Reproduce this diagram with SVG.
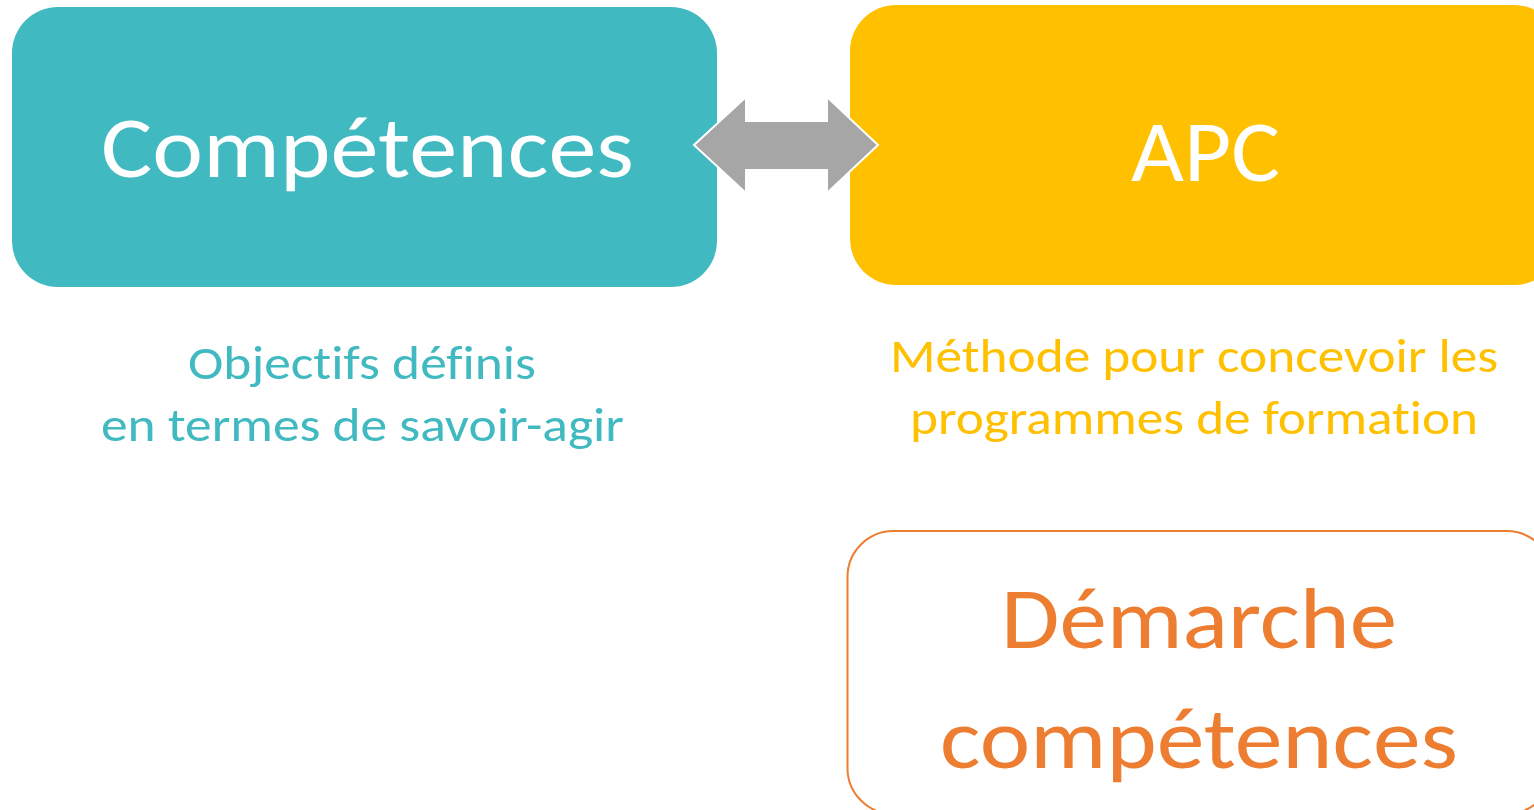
<svg xmlns="http://www.w3.org/2000/svg" width="1534" height="810" viewBox="0 0 1534 810">
<style>
text{font-family:Carlito,Calibri,Lato,"Liberation Sans",sans-serif;text-anchor:middle;font-variant-ligatures:none;font-feature-settings:"liga" 0,"clig" 0,"dlig" 0}
.big{font-size:86px}
.sub{font-size:48px}
.w{fill:#FFFFFF}
.teal{fill:#41B9C1}
.yel{fill:#FFC000}
.org{fill:#ED7D31}
</style>
<rect width="1534" height="810" fill="#FFFFFF"/>
<g id="competences">
<rect x="12" y="7" width="705" height="280" rx="46" ry="46" fill="#41B9C1"/>
<text class="big w" x="367.5" y="177" textLength="533" lengthAdjust="spacingAndGlyphs">Compétences</text>
</g>
<g id="apc">
<rect x="850" y="5" width="710" height="280" rx="46" ry="46" fill="#FFC000"/>
<text class="big w" x="1205.5" y="181" textLength="149" lengthAdjust="spacingAndGlyphs">APC</text>
</g>
<g id="competences-desc">
<text class="sub teal" x="362" y="379" textLength="348" lengthAdjust="spacingAndGlyphs">Objectifs définis</text>
<text class="sub teal" x="362.5" y="441" textLength="523" lengthAdjust="spacingAndGlyphs">en termes de savoir-agir</text>
</g>
<g id="apc-desc">
<text class="sub yel" x="1194" y="372" textLength="608" lengthAdjust="spacingAndGlyphs">Méthode pour concevoir les</text>
<text class="sub yel" x="1194" y="434" textLength="568" lengthAdjust="spacingAndGlyphs">programmes de formation</text>
</g>
<g id="demarche">
<rect x="847.5" y="531" width="705" height="283" rx="46" ry="46" fill="#FFFFFF" stroke="#ED7D31" stroke-width="2"/>
<text class="big org" x="1199" y="648" textLength="396" lengthAdjust="spacingAndGlyphs">Démarche</text>
<text class="big org" x="1199" y="768" textLength="518" lengthAdjust="spacingAndGlyphs">compétences</text>
</g>
<g id="connectors">
<polygon points="694,145 746,97 746,121 827,121 827,97 878,145 827,193 827,170 746,170 746,193" fill="#A6A6A6" stroke="#FFFFFF" stroke-width="2" stroke-linejoin="miter"/>
</g>
</svg>
